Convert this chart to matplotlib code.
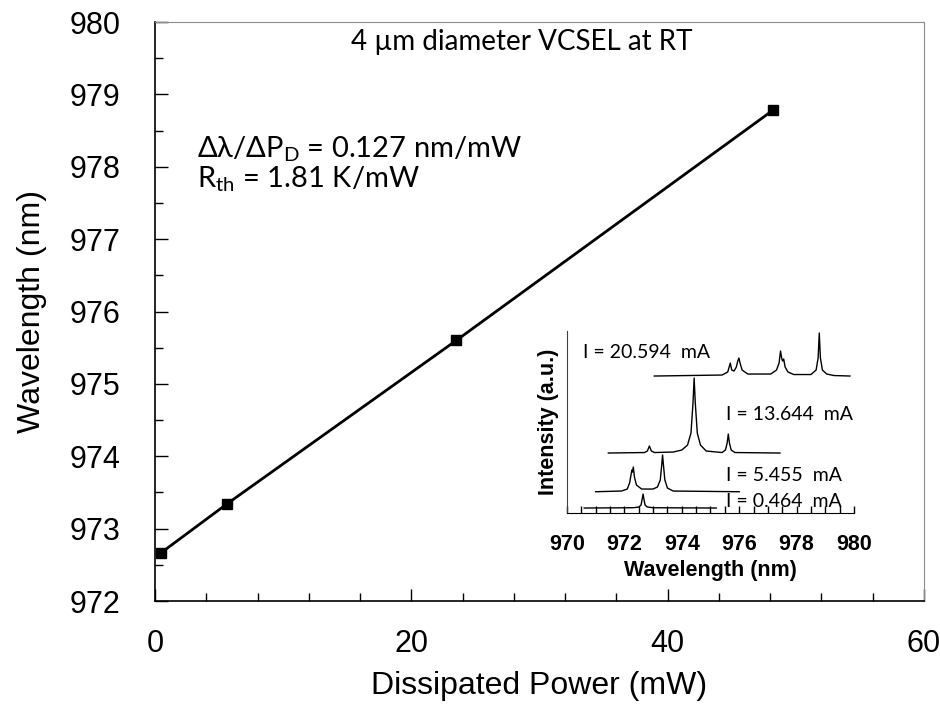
import matplotlib
matplotlib.use("Agg")
import matplotlib.pyplot as plt
from matplotlib.ticker import MultipleLocator

plt.rcParams["font.family"] = ["Liberation Sans", "DejaVu Sans"]
plt.rcParams["mathtext.fontset"] = "custom"
plt.rcParams["mathtext.rm"] = "Lato"
plt.rcParams["mathtext.it"] = "Lato:italic"
plt.rcParams["mathtext.fallback"] = "stixsans"

# main data: peak wavelength vs dissipated power
power_mw = [0.5, 5.6, 23.5, 48.2]
wavelength_nm = [972.67, 973.34, 975.60, 978.78]

# inset spectra (wavelength in nm, intensity in arbitrary units incl. offset)
spec_0464_wl = [970.6, 972.3, 972.5, 972.58, 972.62, 972.65, 972.68, 972.72, 972.8, 973.0, 975.2]
spec_0464_int = [5, 5.3, 6, 8, 14, 19, 14, 8, 6, 5.3, 5]

spec_5455_wl = [971.0, 971.9, 972.1, 972.18, 972.23, 972.26, 972.28, 972.31, 972.35, 972.42,
                972.6, 973.0, 973.15, 973.25, 973.3, 973.33, 973.36, 973.41, 973.5, 973.7, 976.0]
spec_5455_int = [21.3, 22, 24, 30, 38, 43, 41, 46, 36, 28,
                 24, 24, 26, 33, 48, 58, 48, 33, 25, 22, 21.3]

spec_13644_wl = [971.44, 972.7, 972.8, 972.87, 972.94, 973.05, 973.7, 974.0, 974.2, 974.32,
                 974.39, 974.43, 974.47, 974.54, 974.65, 974.85, 975.4, 975.52, 975.58, 975.62,
                 975.66, 975.72, 975.85, 977.42]
spec_13644_int = [60, 60.5, 62, 67, 62, 60.5, 61, 63, 68, 80,
                  110, 135, 110, 80, 68, 62, 60.5, 63, 70, 79,
                  70, 63, 60.5, 60]

spec_20594_wl = [973.04, 975.4, 975.6, 975.66, 975.69, 975.74, 975.82, 975.9, 975.95, 975.99,
                 976.03, 976.1, 976.3, 977.1, 977.3, 977.39, 977.44, 977.48, 977.51, 977.55,
                 977.6, 977.7, 977.9, 978.5, 978.68, 978.75, 978.79, 978.83, 978.9, 979.05,
                 979.3, 979.86]
spec_20594_int = [137, 138, 141, 147, 150, 143, 142, 146, 152, 155,
                  150, 143, 139, 139, 143, 150, 162, 155, 152, 154,
                  146, 141, 138.5, 138.5, 143, 155, 180, 155, 143, 139,
                  137.5, 137]

spec_labels = ["I = 20.594  mA", "I = 13.644  mA", "I = 5.455  mA", "I = 0.464  mA"]
spec_label_pos = [(970.56, 161), (975.54, 99), (975.54, 38), (975.54, 11.3)]

fig = plt.figure(figsize=(9.4, 7.09), dpi=100)
ax = fig.add_axes([0.1649, 0.1523, 0.8181, 0.8166])

ax.plot(power_mw, wavelength_nm, color="black", lw=2, marker="s", ms=7.5, clip_on=False)
ax.set_xlim(0, 60)
ax.set_ylim(972, 980)
ax.xaxis.set_major_locator(MultipleLocator(20))
ax.xaxis.set_minor_locator(MultipleLocator(4))
ax.yaxis.set_major_locator(MultipleLocator(1))
ax.yaxis.set_minor_locator(MultipleLocator(0.5))
ax.tick_params(which="both", direction="in", labelsize=22, width=1)
ax.tick_params(which="major", length=9)
ax.tick_params(which="minor", length=6)
ax.tick_params(axis="x", pad=20)
ax.tick_params(axis="y", pad=25)
for side in ["top", "right"]:
    ax.spines[side].set_color("#8c8c8c")
    ax.spines[side].set_linewidth(0.8)
for side in ["left", "bottom"]:
    ax.spines[side].set_color("black")
    ax.spines[side].set_linewidth(1.2)
ax.set_xlabel("Dissipated Power (mW)", fontsize=23, labelpad=9)
ax.set_ylabel("Wavelength (nm)", fontsize=23, labelpad=16)

ax.text(28.6, 979.72, "4 \u00b5m diameter VCSEL at RT", family="Lato", fontsize=20,
        ha="center", va="center")
ax.text(3.3, 978.13, r"$\mathrm{\Delta\lambda/\Delta P_D}$ = 0.127 nm/mW", family="Lato",
        fontsize=21, ha="left", va="baseline")
ax.text(3.3, 977.72, r"$\mathrm{R_{th}}$ = 1.81 K/mW", family="Lato",
        fontsize=21, ha="left", va="baseline")

# inset with spectra
ins = fig.add_axes([0.6032, 0.2764, 0.3053, 0.2567], facecolor="none")
for wl, inten in [(spec_0464_wl, spec_0464_int), (spec_5455_wl, spec_5455_int),
                  (spec_13644_wl, spec_13644_int), (spec_20594_wl, spec_20594_int)]:
    ins.plot(wl, inten, color="black", lw=1.0, clip_on=False)
ins.set_xlim(970, 980)
ins.set_ylim(0, 182)
ins.set_yticks([])
ins.xaxis.set_major_locator(MultipleLocator(2))
ins.xaxis.set_minor_locator(MultipleLocator(0.5))
ins.tick_params(axis="x", which="both", direction="in", length=5, width=1, pad=15)
ins.tick_params(axis="x", labelsize=15.5)
for lab in ins.get_xticklabels():
    lab.set_fontweight("bold")
ins.spines["top"].set_visible(False)
ins.spines["right"].set_visible(False)
ins.spines["left"].set_color("#404040")
ins.set_xlabel("Wavelength (nm)", fontsize=15.5, fontweight="bold", labelpad=4)
ins.set_ylabel("Intensity (a.u.)", fontsize=15.5, fontweight="bold", labelpad=6)
for text, (x, y) in zip(spec_labels, spec_label_pos):
    ins.text(x, y, text, family="Lato", fontsize=14, ha="left", va="center")

fig.savefig("out.png", dpi=100)
